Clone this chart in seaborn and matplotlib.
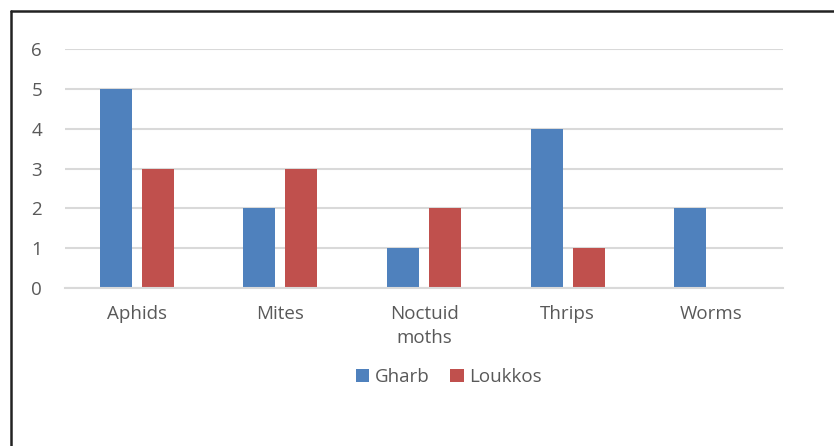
import matplotlib
matplotlib.use("Agg")
import matplotlib.pyplot as plt
from matplotlib.lines import Line2D
import pandas as pd
import seaborn as sns

categories = ["Aphids", "Mites", "Noctuid\nmoths", "Thrips", "Worms"]
gharb = [5, 2, 1, 4, 2]
loukkos = [3, 3, 2, 1, 0]
series_names = ["Gharb", "Loukkos"]
y_ticks = [0, 1, 2, 3, 4, 5, 6]

df = pd.DataFrame({
    "category": categories * 2,
    "value": gharb + loukkos,
    "region": [series_names[0]] * len(categories) + [series_names[1]] * len(categories),
})

sns.set_theme(style="white")
plt.rcParams["font.family"] = ["Open Sans", "DejaVu Sans"]

text_color = "#595959"
grid_color = "#D9D9D9"
palette = {"Gharb": "#4F81BD", "Loukkos": "#C0504D"}
font_size = 13.5

fig = plt.figure(figsize=(8.34, 4.46), dpi=100)
fig.patch.set_facecolor("white")
ax = fig.add_axes([65 / 834, 1 - 288 / 446, (783 - 65) / 834, (288 - 49) / 446])

sns.barplot(data=df, x="category", y="value", hue="region", order=categories,
            hue_order=series_names, palette=palette, width=0.585, gap=0.24,
            saturation=1, linewidth=0, ax=ax, legend=True)

ax.set_ylim(0, 6)
ax.set_xlim(-0.5, len(categories) - 0.5)
ax.set_yticks(y_ticks)
ax.set_xlabel("")
ax.set_ylabel("")
ax.yaxis.grid(True, color=grid_color, linewidth=1.5)
ax.set_axisbelow(True)
for side in ["top", "right", "left"]:
    ax.spines[side].set_visible(False)
ax.spines["bottom"].set_color(grid_color)
ax.spines["bottom"].set_linewidth(1.5)
ax.tick_params(axis="both", length=0, labelsize=font_size, colors=text_color)
ax.tick_params(axis="y", pad=16.5)
ax.tick_params(axis="x", pad=12)
for lbl in ax.get_xticklabels():
    lbl.set_linespacing(1.45)

handles, labels = ax.get_legend_handles_labels()
ax.legend_.remove()
fig.legend(handles, labels, loc="center", bbox_to_anchor=(449 / 834, 1 - 377 / 446),
           ncol=2, frameon=False, fontsize=font_size, labelcolor=text_color,
           handlelength=0.7, handleheight=0.7, handletextpad=0.3, columnspacing=1.1)

# Frame lines along the top and left edges
fig.add_artist(Line2D([11 / 834, 11 / 834], [0, 1 - 11 / 446], transform=fig.transFigure,
                      color="#222222", linewidth=1.8))
fig.add_artist(Line2D([11 / 834, 1], [1 - 11 / 446, 1 - 11 / 446], transform=fig.transFigure,
                      color="#222222", linewidth=1.8))

fig.savefig("out.png", dpi=100, facecolor="white")
